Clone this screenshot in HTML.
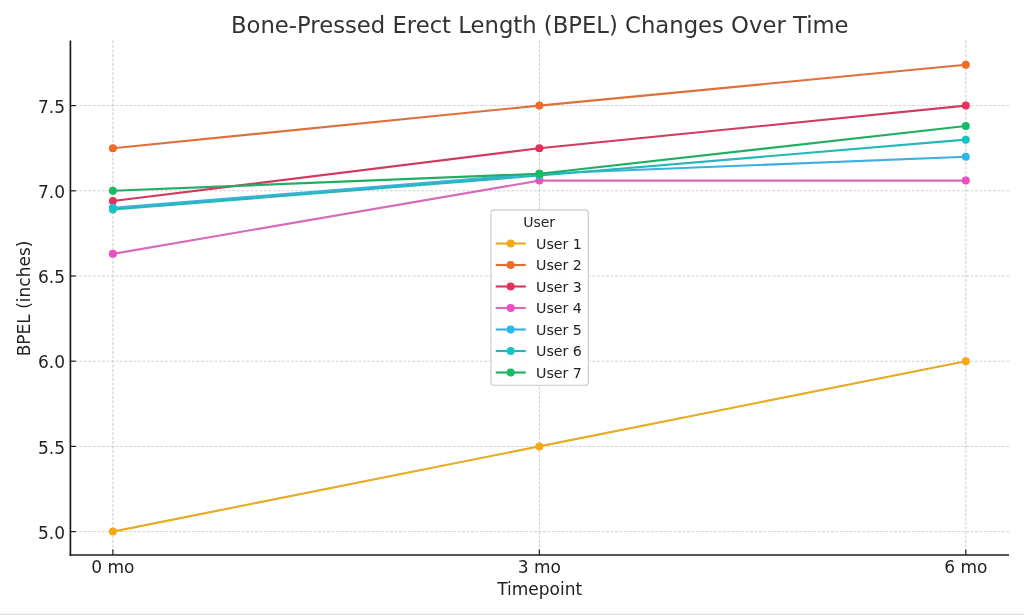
<!DOCTYPE html>
<html><head><meta charset="utf-8"><title>BPEL Changes Over Time</title>
<style>
html,body{margin:0;padding:0;background:#fff;}
body{width:1024px;height:615px;overflow:hidden;}
svg{display:block;font-family:"DejaVu Sans", "Liberation Sans", sans-serif;}
</style></head><body>
<svg width="1024" height="615" viewBox="0 0 1024 615">
<rect x="0" y="0" width="1024" height="615" fill="#ffffff"/>
<rect x="0" y="613.6" width="1024" height="1.4" fill="#e0e0e0"/><rect x="0" y="612.6" width="1024" height="1" fill="#f7f7f7"/>
<line x1="70.4" y1="531.60" x2="1009.0" y2="531.60" stroke="#c8c8c8" stroke-width="0.8" stroke-dasharray="3,1.5"/>
<line x1="70.4" y1="446.40" x2="1009.0" y2="446.40" stroke="#c8c8c8" stroke-width="0.8" stroke-dasharray="3,1.5"/>
<line x1="70.4" y1="361.20" x2="1009.0" y2="361.20" stroke="#c8c8c8" stroke-width="0.8" stroke-dasharray="3,1.5"/>
<line x1="70.4" y1="276.00" x2="1009.0" y2="276.00" stroke="#c8c8c8" stroke-width="0.8" stroke-dasharray="3,1.5"/>
<line x1="70.4" y1="190.80" x2="1009.0" y2="190.80" stroke="#c8c8c8" stroke-width="0.8" stroke-dasharray="3,1.5"/>
<line x1="70.4" y1="105.60" x2="1009.0" y2="105.60" stroke="#c8c8c8" stroke-width="0.8" stroke-dasharray="3,1.5"/>
<line x1="112.90" y1="40.5" x2="112.90" y2="555.0" stroke="#bebebe" stroke-width="0.8" stroke-dasharray="3,1.5"/>
<line x1="539.35" y1="40.5" x2="539.35" y2="555.0" stroke="#bebebe" stroke-width="0.8" stroke-dasharray="3,1.5"/>
<line x1="965.80" y1="40.5" x2="965.80" y2="555.0" stroke="#bebebe" stroke-width="0.8" stroke-dasharray="3,1.5"/>
<polyline points="112.90,531.60 539.35,446.40 965.80,361.20" fill="none" stroke="#e6ab22" stroke-width="2.15" stroke-linejoin="round"/>
<circle cx="112.90" cy="531.60" r="4.0" fill="#f4a812"/>
<circle cx="539.35" cy="446.40" r="4.0" fill="#f4a812"/>
<circle cx="965.80" cy="361.20" r="4.0" fill="#f4a812"/>
<polyline points="112.90,148.20 539.35,105.60 965.80,64.70" fill="none" stroke="#e0703a" stroke-width="2.15" stroke-linejoin="round"/>
<circle cx="112.90" cy="148.20" r="4.0" fill="#ee6a26"/>
<circle cx="539.35" cy="105.60" r="4.0" fill="#ee6a26"/>
<circle cx="965.80" cy="64.70" r="4.0" fill="#ee6a26"/>
<polyline points="112.90,201.02 539.35,148.20 965.80,105.60" fill="none" stroke="#d23a5e" stroke-width="2.15" stroke-linejoin="round"/>
<circle cx="112.90" cy="201.02" r="4.0" fill="#e4325c"/>
<circle cx="539.35" cy="148.20" r="4.0" fill="#e4325c"/>
<circle cx="965.80" cy="105.60" r="4.0" fill="#e4325c"/>
<polyline points="112.90,253.85 539.35,180.58 965.80,180.58" fill="none" stroke="#d86abc" stroke-width="2.15" stroke-linejoin="round"/>
<circle cx="112.90" cy="253.85" r="4.0" fill="#ee4cc4"/>
<circle cx="539.35" cy="180.58" r="4.0" fill="#ee4cc4"/>
<circle cx="965.80" cy="180.58" r="4.0" fill="#ee4cc4"/>
<polyline points="112.90,207.84 539.35,173.76 965.80,156.72" fill="none" stroke="#3eaee0" stroke-width="2.15" stroke-linejoin="round"/>
<circle cx="112.90" cy="207.84" r="4.0" fill="#2ab6ee"/>
<circle cx="539.35" cy="173.76" r="4.0" fill="#2ab6ee"/>
<circle cx="965.80" cy="156.72" r="4.0" fill="#2ab6ee"/>
<polyline points="112.90,209.54 539.35,175.46 965.80,139.68" fill="none" stroke="#22b8b8" stroke-width="2.15" stroke-linejoin="round"/>
<circle cx="112.90" cy="209.54" r="4.0" fill="#16c4c0"/>
<circle cx="539.35" cy="175.46" r="4.0" fill="#16c4c0"/>
<circle cx="965.80" cy="139.68" r="4.0" fill="#16c4c0"/>
<polyline points="112.90,190.80 539.35,173.76 965.80,126.05" fill="none" stroke="#20ae62" stroke-width="2.15" stroke-linejoin="round"/>
<circle cx="112.90" cy="190.80" r="4.0" fill="#14bc62"/>
<circle cx="539.35" cy="173.76" r="4.0" fill="#14bc62"/>
<circle cx="965.80" cy="126.05" r="4.0" fill="#14bc62"/>
<line x1="70.4" y1="40.5" x2="70.4" y2="555.85" stroke="#1c1c1c" stroke-width="1.7"/>
<line x1="69.55000000000001" y1="555.0" x2="1009.0" y2="555.0" stroke="#1c1c1c" stroke-width="1.7"/>
<line x1="70.4" y1="531.60" x2="75.9" y2="531.60" stroke="#222222" stroke-width="1.2"/>
<text x="65.0" y="538.80" text-anchor="end" font-size="17" fill="#222222">5.0</text>
<line x1="70.4" y1="446.40" x2="75.9" y2="446.40" stroke="#222222" stroke-width="1.2"/>
<text x="65.0" y="453.60" text-anchor="end" font-size="17" fill="#222222">5.5</text>
<line x1="70.4" y1="361.20" x2="75.9" y2="361.20" stroke="#222222" stroke-width="1.2"/>
<text x="65.0" y="368.40" text-anchor="end" font-size="17" fill="#222222">6.0</text>
<line x1="70.4" y1="276.00" x2="75.9" y2="276.00" stroke="#222222" stroke-width="1.2"/>
<text x="65.0" y="283.20" text-anchor="end" font-size="17" fill="#222222">6.5</text>
<line x1="70.4" y1="190.80" x2="75.9" y2="190.80" stroke="#222222" stroke-width="1.2"/>
<text x="65.0" y="198.00" text-anchor="end" font-size="17" fill="#222222">7.0</text>
<line x1="70.4" y1="105.60" x2="75.9" y2="105.60" stroke="#222222" stroke-width="1.2"/>
<text x="65.0" y="112.80" text-anchor="end" font-size="17" fill="#222222">7.5</text>
<line x1="112.90" y1="555.0" x2="112.90" y2="549.5" stroke="#222222" stroke-width="1.2"/>
<text x="112.90" y="572.8" text-anchor="middle" font-size="17" fill="#222222">0 mo</text>
<line x1="539.35" y1="555.0" x2="539.35" y2="549.5" stroke="#222222" stroke-width="1.2"/>
<text x="539.35" y="572.8" text-anchor="middle" font-size="17" fill="#222222">3 mo</text>
<line x1="965.80" y1="555.0" x2="965.80" y2="549.5" stroke="#222222" stroke-width="1.2"/>
<text x="965.80" y="572.8" text-anchor="middle" font-size="17" fill="#222222">6 mo</text>
<text x="539.70" y="594.6" text-anchor="middle" font-size="17" fill="#222222">Timepoint</text>
<text transform="translate(29.8,298.5) rotate(-90)" text-anchor="middle" font-size="17" fill="#222222">BPEL (inches)</text>
<text x="539.80" y="32.6" text-anchor="middle" font-size="22.72" fill="#333333">Bone-Pressed Erect Length (BPEL) Changes Over Time</text>
<rect x="491" y="210" width="97.3" height="175.3" rx="3" ry="3" fill="#ffffff" fill-opacity="0.9" stroke="#d2d2d2" stroke-width="1.3"/>
<text x="539.15" y="227.0" text-anchor="middle" font-size="14" fill="#222222">User</text>
<line x1="495.7" y1="243.50" x2="525.8" y2="243.50" stroke="#e6ab22" stroke-width="2.15"/>
<circle cx="510.7" cy="243.50" r="4.0" fill="#f4a812"/>
<text x="536" y="248.50" font-size="14.2" fill="#222222">User 1</text>
<line x1="495.7" y1="265.00" x2="525.8" y2="265.00" stroke="#e0703a" stroke-width="2.15"/>
<circle cx="510.7" cy="265.00" r="4.0" fill="#ee6a26"/>
<text x="536" y="270.00" font-size="14.2" fill="#222222">User 2</text>
<line x1="495.7" y1="286.50" x2="525.8" y2="286.50" stroke="#d23a5e" stroke-width="2.15"/>
<circle cx="510.7" cy="286.50" r="4.0" fill="#e4325c"/>
<text x="536" y="291.50" font-size="14.2" fill="#222222">User 3</text>
<line x1="495.7" y1="308.00" x2="525.8" y2="308.00" stroke="#d86abc" stroke-width="2.15"/>
<circle cx="510.7" cy="308.00" r="4.0" fill="#ee4cc4"/>
<text x="536" y="313.00" font-size="14.2" fill="#222222">User 4</text>
<line x1="495.7" y1="329.50" x2="525.8" y2="329.50" stroke="#3eaee0" stroke-width="2.15"/>
<circle cx="510.7" cy="329.50" r="4.0" fill="#2ab6ee"/>
<text x="536" y="334.50" font-size="14.2" fill="#222222">User 5</text>
<line x1="495.7" y1="351.00" x2="525.8" y2="351.00" stroke="#22b8b8" stroke-width="2.15"/>
<circle cx="510.7" cy="351.00" r="4.0" fill="#16c4c0"/>
<text x="536" y="356.00" font-size="14.2" fill="#222222">User 6</text>
<line x1="495.7" y1="372.50" x2="525.8" y2="372.50" stroke="#20ae62" stroke-width="2.15"/>
<circle cx="510.7" cy="372.50" r="4.0" fill="#14bc62"/>
<text x="536" y="377.50" font-size="14.2" fill="#222222">User 7</text>
</svg>
</body></html>
